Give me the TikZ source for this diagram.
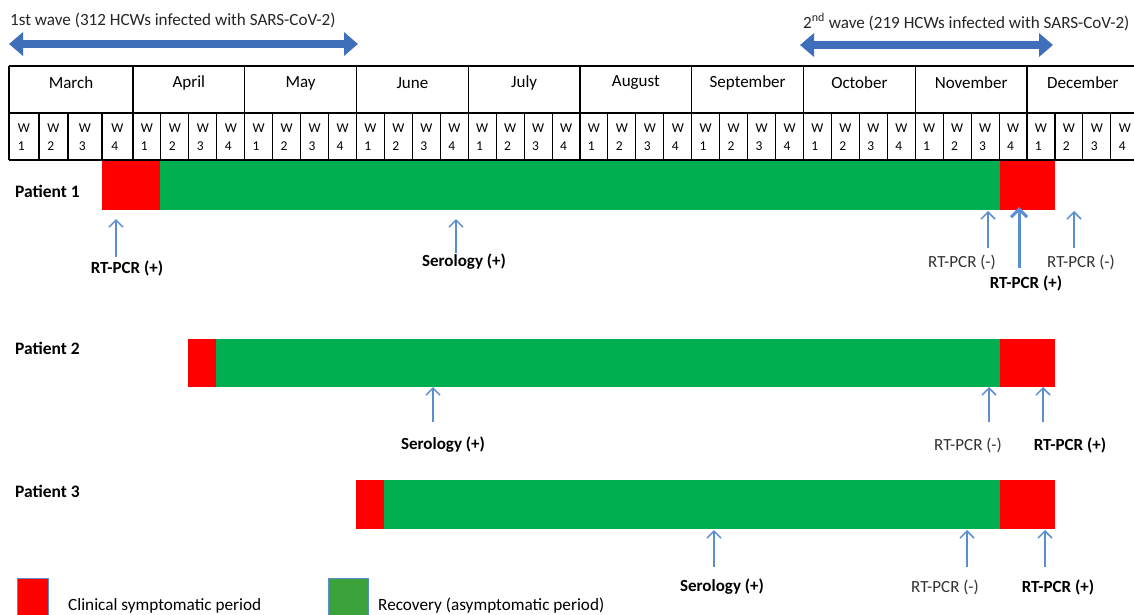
\documentclass[tikz,border=0pt]{standalone}
\usepackage{fontspec}
\setmainfont{Carlito}
\usetikzlibrary{arrows.meta}
\definecolor{wave}{HTML}{3F6EBA}
\definecolor{tickc}{HTML}{5B8ED0}
\definecolor{sympt}{HTML}{FF0000}
\definecolor{recov}{HTML}{00B050}
\definecolor{legrecov}{HTML}{3BA339}
\definecolor{legedge}{HTML}{5B8ED0}
\begin{document}
\tikzset{
  gridline/.style={line width=1.1pt, black},
  monthlbl/.style={font=\fontsize{17}{20}\selectfont, inner sep=0pt},
  weeklbl/.style={font=\fontsize{13.5}{18}\selectfont, align=left, inner sep=0pt},
  patlbl/.style={font=\fontsize{17.5}{20}\selectfont\bfseries, anchor=west, inner sep=0pt},
  poslbl/.style={font=\fontsize{17}{20}\selectfont\bfseries, inner sep=0pt},
  neglbl/.style={font=\fontsize{17}{20}\selectfont, text=black!80, inner sep=0pt},
  testarrow/.style={line width=1.5pt, tickc, -{Straight Barb[length=7pt,width=14pt,line width=1.5pt]}},
  bigtestarrow/.style={line width=3pt, tickc, -{Straight Barb[length=8pt,width=16pt,line width=3pt]}},
  wavearrow/.style={line width=8pt, wave, {Triangle[length=14pt,width=23pt]}-{Triangle[length=14pt,width=23pt]}},
  wavelbl/.style={font=\fontsize{17.1}{20}\selectfont, anchor=west, inner sep=0pt, text=black!85},
  legtext/.style={font=\fontsize{17.2}{20}\selectfont, anchor=west, inner sep=0pt},
}
\begin{tikzpicture}[x=1pt,y=-1pt]
\clip (0,0) rectangle (1134,614);
\fill[white] (0,0) rectangle (1134,614);

% waves
\node[wavelbl] (w1) at (10,20) {1st wave (312 HCWs infected with SARS-CoV-2)};
\node[wavelbl] (w2) at (803,22) {2\textsuperscript{nd} wave (219 HCWs infected with SARS-CoV-2)};
\coordinate (w1a) at (9,44);
\coordinate (w1b) at (358,44);
\coordinate (w2a) at (800,45);
\coordinate (w2b) at (1053,45);
\draw[wavearrow] (w1a) -- (w1b);
\draw[wavearrow] (w2a) -- (w2b);

% table grid
\draw[gridline] (9,66) -- (1145,66);
\draw[gridline] (9,113) -- (1145,113);
\draw[gridline] (9,160) -- (1145,160);
\draw[gridline] (9,66) -- (9,160);
\foreach \k in {0,...,8} {
  \draw[gridline] ({133+111.75*\k},66) -- ({133+111.75*\k},160);
}
\foreach \x in {39,68,102} {
  \draw[gridline] (\x,113) -- (\x,160);
}
\foreach \i in {1,...,36} {
  \draw[gridline] ({133+27.9375*\i},113) -- ({133+27.9375*\i},160);
}
% month labels
\node[monthlbl] (mm) at (71,83) {March};
\foreach \k/\m in {0/April,1/May,2/June,3/July,4/August,5/September,6/October,7/November,8/December} {
  \node[monthlbl] (m\k) at ({133+111.75*(\k+0.5)},83) {\m};
}
% week labels
\foreach \c/\wq in {24/1,53.5/2,85/3,117.5/4} {
  \node[weeklbl] (mw\wq) at (\c,137) {W\\\wq};
}
\foreach \i in {0,...,35} {
  \pgfmathtruncatemacro{\wn}{mod(\i,4)+1}
  \node[weeklbl] (wk\i) at ({133+27.9375*(\i+0.5)},137) {W\\\wn};
}

% patient 1
\node[patlbl] (p1) at (15,191) {Patient 1};
\fill[sympt] (102,161) rectangle (160,210);
\fill[recov] (160,161) rectangle (1000,210);
\fill[sympt] (1000,161) rectangle (1055,210);
\node[poslbl] (p1l1) at (127,268) {RT-PCR (+)};
\node[poslbl] (p1l2) at (464,262) {Serology (+)};
\node[neglbl] (p1l3) at (962,262) {RT-PCR (-)};
\node[poslbl] (p1l4) at (1026,283) {RT-PCR (+)};
\node[neglbl] (p1l5) at (1081,262) {RT-PCR (-)};
\coordinate (p1t1) at (116,219); \coordinate (p1s1) at (116,257);
\coordinate (p1t2) at (456,219); \coordinate (p1s2) at (456,253);
\coordinate (p1t3) at (988,211); \coordinate (p1s3) at (988,248);
\coordinate (p1t4) at (1019,207); \coordinate (p1s4) at (1019,268);
\coordinate (p1t5) at (1074,211); \coordinate (p1s5) at (1074,248);
\draw[testarrow] (p1s1) -- (p1t1);
\draw[testarrow] (p1s2) -- (p1t2);
\draw[testarrow] (p1s3) -- (p1t3);
\draw[bigtestarrow] (p1s4) -- (p1t4);
\draw[testarrow] (p1s5) -- (p1t5);

% patient 2
\node[patlbl] (p2) at (15,348) {Patient 2};
\fill[sympt] (188,339) rectangle (216,387);
\fill[recov] (216,339) rectangle (1000,387);
\fill[sympt] (1000,339) rectangle (1055,387);
\node[poslbl] (p2l1) at (443,445) {Serology (+)};
\node[neglbl] (p2l2) at (968,445) {RT-PCR (-)};
\node[poslbl] (p2l3) at (1070,445) {RT-PCR (+)};
\coordinate (p2t1) at (433,387); \coordinate (p2s1) at (433,422);
\coordinate (p2t2) at (989,387); \coordinate (p2s2) at (989,422);
\coordinate (p2t3) at (1043,387); \coordinate (p2s3) at (1043,422);
\draw[testarrow] (p2s1) -- (p2t1);
\draw[testarrow] (p2s2) -- (p2t2);
\draw[testarrow] (p2s3) -- (p2t3);

% patient 3
\node[patlbl] (p3) at (15,491) {Patient 3};
\fill[sympt] (356,480) rectangle (384,529);
\fill[recov] (384,480) rectangle (1000,529);
\fill[sympt] (1000,480) rectangle (1055,529);
\node[poslbl] (p3l1) at (722,587) {Serology (+)};
\node[neglbl] (p3l2) at (945,587) {RT-PCR (-)};
\node[poslbl] (p3l3) at (1058,587) {RT-PCR (+)};
\coordinate (p3t1) at (714,530); \coordinate (p3s1) at (714,567);
\coordinate (p3t2) at (967,530); \coordinate (p3s2) at (967,567);
\coordinate (p3t3) at (1045,530); \coordinate (p3s3) at (1045,567);
\draw[testarrow] (p3s1) -- (p3t1);
\draw[testarrow] (p3s2) -- (p3t2);
\draw[testarrow] (p3s3) -- (p3t3);

% legend
\draw[fill=sympt, draw=legedge, line width=1pt] (17,578) rectangle (48,620);
\node[legtext] (lg1) at (68,606) {Clinical symptomatic period};
\draw[fill=legrecov, draw=legedge, line width=1pt] (328,578) rectangle (368,620);
\node[legtext] (lg2) at (378,606) {Recovery (asymptomatic period)};
\end{tikzpicture}
\end{document}
